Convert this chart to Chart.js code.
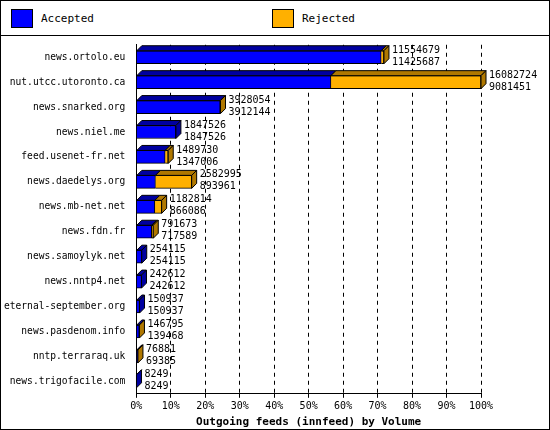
<!DOCTYPE html>
<html><head><meta charset="utf-8">
<script src="https://cdn.jsdelivr.net/npm/chart.js@4/dist/chart.umd.min.js"></script>
<style>
body{margin:0;background:#fff;font-family:"DejaVu Sans Mono",monospace;}
#wrap{position:relative;width:548px;height:428px;border:1px solid #000;}
#leg{height:34px;border-bottom:1px solid #000;position:relative;font-size:11px;}
.it{position:absolute;top:8px;display:flex;align-items:center;}
.sw{width:20px;height:17px;border:1px solid #000;margin-right:8px;}
#cv{position:absolute;left:0;top:35px;}
</style></head><body>
<div id="wrap">
<div id="leg">
<div class="it" style="left:10px"><div class="sw" style="background:#0000ff"></div>Accepted</div>
<div class="it" style="left:271px"><div class="sw" style="background:#ffb000"></div>Rejected</div>
</div>
<canvas id="cv" width="548" height="393"></canvas>
</div>
<script>
const categories=["news.ortolo.eu","nut.utcc.utoronto.ca","news.snarked.org","news.niel.me","feed.usenet-fr.net","news.daedelys.org","news.mb-net.net","news.fdn.fr","news.samoylyk.net","news.nntp4.net","eternal-september.org","news.pasdenom.info","nntp.terraraq.uk","news.trigofacile.com"];
const offered=[11554679,16082724,3928054,1847526,1489730,2582995,1182814,791673,254115,242612,150937,146795,76881,8249];
const accepted=[11425687,9081451,3912144,1847526,1347006,893961,866086,717589,254115,242612,150937,139468,69385,8249];
const maxV=Math.max(...offered);
const accPct=accepted.map(v=>v/maxV*100);
const rejPct=offered.map((v,i)=>(v-accepted[i])/maxV*100);
const D=5;
function shade(c){return c==='#0000ff'?'#0000a0':'#b07800';}
const depth={id:'depth',afterDatasetsDraw(ch){
  const ctx=ch.ctx;
  ch.data.datasets.forEach((ds,di)=>{
    ch.getDatasetMeta(di).data.forEach((b,i)=>{
      const w=b.x-b.base; if(w<=0&&di===1)return;
      const top=b.y-b.height/2,bot=b.y+b.height/2;
      ctx.save();ctx.strokeStyle='#000';ctx.lineWidth=1;
      ctx.fillStyle=shade(ds.backgroundColor);
      ctx.beginPath();ctx.moveTo(b.base,top);ctx.lineTo(b.base+D,top-D);ctx.lineTo(b.x+D,top-D);ctx.lineTo(b.x,top);ctx.closePath();ctx.fill();ctx.stroke();
      const isEnd=(di===1)||rejPct[i]===0;
      if(isEnd){ctx.beginPath();ctx.moveTo(b.x,top);ctx.lineTo(b.x+D,top-D);ctx.lineTo(b.x+D,bot-D);ctx.lineTo(b.x,bot);ctx.closePath();ctx.fill();ctx.stroke();}
      ctx.restore();
    });
  });
  const m=ch.getDatasetMeta(1);
  ctx.save();ctx.fillStyle='#000';ctx.font='10px "DejaVu Sans Mono"';ctx.textBaseline='middle';
  m.data.forEach((b,i)=>{const x=Math.max(b.x,ch.getDatasetMeta(0).data[i].x)+D+3;
    ctx.fillText(String(offered[i]),x,b.y-7);ctx.fillText(String(accepted[i]),x,b.y+5);});
  ctx.restore();
}};
new Chart(document.getElementById('cv'),{type:'bar',
 data:{labels:categories,datasets:[
  {label:'Accepted',data:accPct,backgroundColor:'#0000ff',borderColor:'#000',borderWidth:1,barThickness:13},
  {label:'Rejected',data:rejPct,backgroundColor:'#ffb000',borderColor:'#000',borderWidth:1,barThickness:13}]},
 options:{indexAxis:'y',responsive:false,animation:false,
  layout:{padding:{top:6,right:68,left:0,bottom:0}},
  plugins:{legend:{display:false},tooltip:{enabled:false}},
  scales:{
   x:{stacked:true,min:0,max:100,ticks:{stepSize:10,callback:v=>v+'%',color:'#000',font:{family:'DejaVu Sans Mono',size:10}},
      grid:{color:'#000',tickLength:4,drawTicks:true},border:{color:'#000',dash:[4,4]},
      title:{display:true,text:'Outgoing feeds (innfeed) by Volume',color:'#000',font:{family:'DejaVu Sans Mono',size:11,weight:'bold'},padding:0}},
   y:{stacked:true,ticks:{color:'#000',font:{family:'DejaVu Sans Mono',size:9.6}},grid:{display:false},border:{color:'#000'}}
  }}
 ,plugins:[depth]});
</script></body></html>
